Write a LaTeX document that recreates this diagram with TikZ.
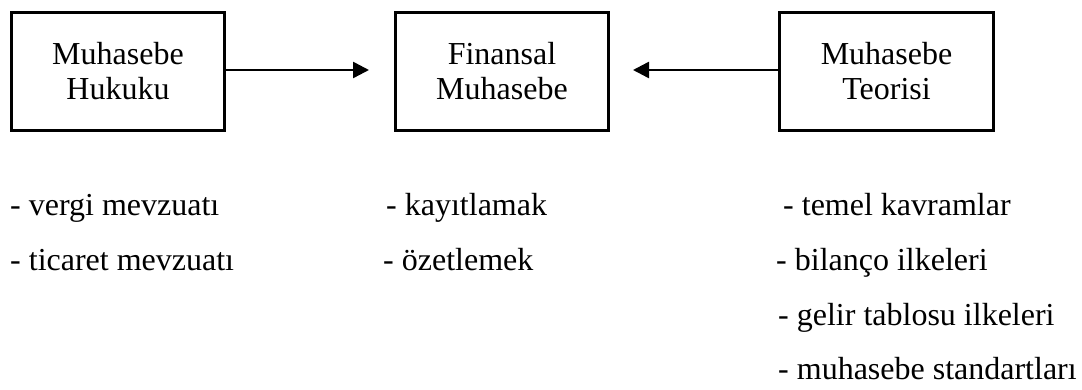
\documentclass[tikz,border=0pt]{standalone}
\usepackage{fontspec}
\setmainfont{Liberation Serif}
\usetikzlibrary{arrows.meta}

\tikzset{
  kutu/.style={draw, line width=3pt, minimum width=213.5pt, minimum height=118pt,
    align=center, font=\fontsize{32}{35}\selectfont},
  madde/.style={anchor=base west, inner sep=0pt, font=\fontsize{32}{35}\selectfont},
  ok/.style={line width=2.5pt, -{Triangle[length=16pt,width=16pt]}}
}

\begin{document}
\begin{tikzpicture}[x=1pt,y=-1pt]
  %%%%% START %%%%%
  \useasboundingbox (0,0) rectangle (1082,390);

  % kutular
  \node[kutu] (hukuk) at (118,71.5) {Muhasebe\\Hukuku};
  \node[kutu] (finans) at (502,71.5) {Finansal\\Muhasebe};
  \node[kutu] (teori) at (886.5,71.5) {Muhasebe\\Teorisi};

  % oklar
  \coordinate (ucA) at (369,70);
  \coordinate (ucB) at (633,70);
  \draw[ok] (hukuk.east |- ucA) -- (ucA);
  \draw[ok] (teori.west |- ucB) -- (ucB);

  % maddeler
  \node[madde] (vergi) at (10,216) {- vergi mevzuatı};
  \node[madde] (ticaret) at (10,270.5) {- ticaret mevzuatı};
  \node[madde] (kayit) at (386,216) {- kayıtlamak};
  \node[madde] (ozet) at (383,270.5) {- özetlemek};
  \node[madde] (temel) at (783,216) {- temel kavramlar};
  \node[madde] (bilanco) at (776,270.5) {- bilanço ilkeleri};
  \node[madde] (gelir) at (778,325) {- gelir tablosu ilkeleri};
  \node[madde] (standart) at (778,379.5) {- muhasebe standartları};
  %%%%% END %%%%%
\end{tikzpicture}
\end{document}
